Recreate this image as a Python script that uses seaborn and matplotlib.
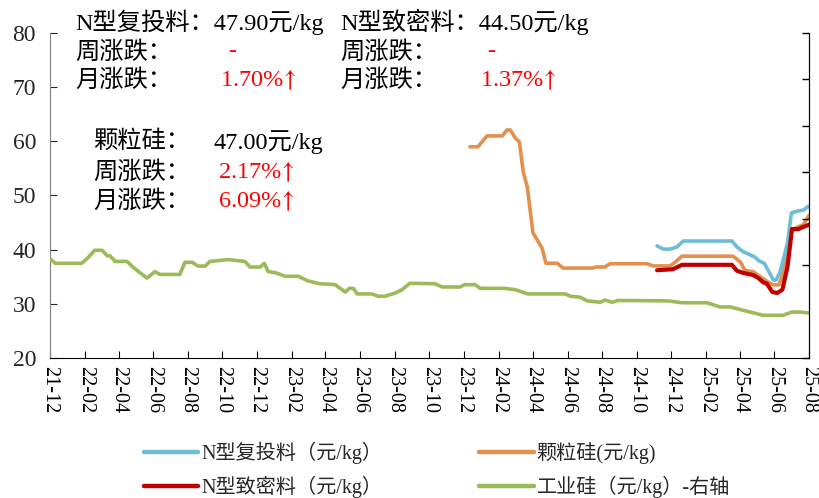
import pandas as pd
import seaborn as sns
import matplotlib
matplotlib.use('Agg')
import matplotlib.pyplot as plt
import matplotlib.dates as mdates
from matplotlib.lines import Line2D

# ---- data ----
n_reload_dates = ['2024-11-06', '2024-11-17', '2024-11-29', '2024-12-11', '2024-12-22',
                  '2025-03-18', '2025-03-27', '2025-04-07', '2025-04-16', '2025-04-28',
                  '2025-05-05', '2025-05-14', '2025-05-21', '2025-05-30', '2025-06-04',
                  '2025-06-11', '2025-06-24', '2025-07-01', '2025-07-11', '2025-07-22',
                  '2025-07-31']
n_reload = [40.7, 40.1, 40.1, 40.5, 41.6, 41.6, 40.5, 39.6, 39.2, 38.6,
            37.9, 37.5, 36.2, 34.4, 34.4, 35.9, 41.2, 46.8, 47.1, 47.3, 48.0]

n_dense_dates = ['2024-11-06', '2024-12-04', '2024-12-20', '2025-03-18', '2025-03-27',
                 '2025-04-07', '2025-04-25', '2025-05-03', '2025-05-12', '2025-05-19',
                 '2025-05-28', '2025-06-06', '2025-06-15', '2025-06-24', '2025-07-02',
                 '2025-07-13', '2025-07-22', '2025-08-01']
n_dense = [36.2, 36.4, 37.2, 37.2, 36.1, 35.7, 35.3, 34.8, 34.0, 33.7,
           32.2, 32.0, 32.6, 36.8, 43.8, 43.8, 44.2, 44.6]

granular_dates = ['2023-12-12', '2023-12-26', '2024-01-11', '2024-02-07', '2024-02-15',
                  '2024-02-21', '2024-03-01', '2024-03-08', '2024-03-15', '2024-03-22',
                  '2024-04-01', '2024-04-17', '2024-04-24', '2024-05-14', '2024-05-24',
                  '2024-07-16', '2024-07-20', '2024-08-06', '2024-08-15', '2024-10-19',
                  '2024-10-30', '2024-11-29', '2024-12-08', '2024-12-20', '2025-03-20',
                  '2025-04-02', '2025-04-10', '2025-04-25', '2025-05-10', '2025-05-21',
                  '2025-05-30', '2025-06-09', '2025-06-18', '2025-06-29', '2025-07-08',
                  '2025-07-22', '2025-08-01']
granular = [59.0, 59.0, 61.0, 61.0, 62.1, 62.1, 60.6, 59.9, 54.3, 51.6,
            43.1, 40.3, 37.5, 37.5, 36.6, 36.6, 36.8, 36.8, 37.4, 37.4,
            37.0, 37.0, 37.7, 38.8, 38.8, 37.7, 36.2, 35.9, 34.8, 34.0,
            33.5, 33.5, 36.2, 43.6, 44.0, 44.6, 46.3]

metal_si_dates = ['2021-12-01', '2021-12-10', '2022-01-26', '2022-02-06', '2022-02-18',
                  '2022-03-03', '2022-03-12', '2022-03-17', '2022-03-26', '2022-04-16',
                  '2022-04-26', '2022-05-21', '2022-06-04', '2022-06-13', '2022-07-18',
                  '2022-07-27', '2022-08-09', '2022-08-19', '2022-09-01', '2022-09-09',
                  '2022-10-11', '2022-11-10', '2022-11-19', '2022-12-07', '2022-12-14',
                  '2022-12-21', '2023-01-02', '2023-01-20', '2023-02-12', '2023-03-01',
                  '2023-03-22', '2023-04-18', '2023-05-06', '2023-05-13', '2023-05-20',
                  '2023-05-27', '2023-06-22', '2023-07-03', '2023-07-15', '2023-08-02',
                  '2023-08-14', '2023-08-28', '2023-10-11', '2023-10-24', '2023-11-24',
                  '2023-12-03', '2023-12-21', '2023-12-30', '2024-02-12', '2024-03-01',
                  '2024-03-23', '2024-05-28', '2024-06-06', '2024-06-23', '2024-07-06',
                  '2024-07-29', '2024-08-06', '2024-08-19', '2024-08-29', '2024-11-26',
                  '2024-12-20', '2025-02-02', '2025-02-25', '2025-03-15', '2025-04-19',
                  '2025-05-12', '2025-06-16', '2025-07-02', '2025-07-16', '2025-07-31']
metal_si = [15.7, 15.2, 15.2, 15.8, 16.6, 16.6, 16.0, 16.0, 15.4, 15.4,
            14.8, 13.6, 14.3, 14.0, 14.0, 15.3, 15.3, 14.9, 14.9, 15.4,
            15.6, 15.4, 14.8, 14.8, 15.2, 14.3, 14.2, 13.8, 13.8, 13.3,
            13.0, 12.9, 12.1, 12.5, 12.5, 11.9, 11.9, 11.65, 11.65, 12.0,
            12.35, 13.05, 13.0, 12.65, 12.65, 12.9, 12.9, 12.5, 12.5, 12.35,
            11.9, 11.9, 11.65, 11.55, 11.15, 11.0, 11.25, 11.0, 11.2, 11.15,
            10.95, 10.95, 10.5, 10.5, 9.95, 9.6, 9.6, 9.95, 9.95, 9.85]

labels = ['N型复投料（元/kg）', '颗粒硅(元/kg)', 'N型致密料（元/kg）', '工业硅（元/kg）-右轴']
colors = ['#6CBDD5', '#E3904F', '#C00000', '#9BBB59']

df_reload = pd.DataFrame({'date': pd.to_datetime(n_reload_dates), 'price': n_reload})
df_dense = pd.DataFrame({'date': pd.to_datetime(n_dense_dates), 'price': n_dense})
df_gran = pd.DataFrame({'date': pd.to_datetime(granular_dates), 'price': granular})
df_si = pd.DataFrame({'date': pd.to_datetime(metal_si_dates), 'price': metal_si})

sns.set_style('ticks')
plt.rcParams['font.family'] = ['Liberation Serif', 'Noto Sans CJK SC', 'DejaVu Sans']
plt.rcParams['mathtext.fontset'] = 'stix'
plt.rcParams['axes.unicode_minus'] = False

W, H = 819, 498
fig = plt.figure(figsize=(W / 100, H / 100), dpi=100)
ax = fig.add_axes([50 / W, 1 - 358 / H, (809 - 50) / W, (358 - 33) / H])
ax2 = ax.twinx()

sns.lineplot(data=df_si, x='date', y='price', ax=ax2, color=colors[3], lw=2.6)
sns.lineplot(data=df_gran, x='date', y='price', ax=ax, color=colors[1], lw=2.6)
sns.lineplot(data=df_reload, x='date', y='price', ax=ax, color=colors[0], lw=2.6)
sns.lineplot(data=df_dense, x='date', y='price', ax=ax, color=colors[2], lw=3.0)

ax.set_xlim(pd.Timestamp('2021-12-01'), pd.Timestamp('2025-08-01'))
ax.set_ylim(20, 80)
ax.set_yticks(range(20, 81, 10))
ax2.set_ylim(5, 40)
ax2.set_yticks(range(5, 41, 5))
ax2.tick_params(axis='y', direction='in', labelright=False, right=True,
                length=5, width=1, color='black')

xt = pd.date_range('2021-12-01', '2025-08-01', freq='2MS')
ax.set_xticks(xt)
ax.xaxis.set_major_formatter(mdates.DateFormatter('%y-%m'))
ax.tick_params(axis='x', direction='in', rotation=-90, labelsize=14.5, length=5, pad=6, colors='black')
ax.tick_params(axis='y', direction='in', labelsize=17, length=5, pad=10)
ax.set_xlabel('')
ax.set_ylabel('')
ax2.set_ylabel('')

for a in (ax, ax2):
    a.spines['top'].set_visible(False)
ax.spines['left'].set_color('#808080')
ax.spines['bottom'].set_color('black')
ax2.spines['right'].set_color('black')
ax2.spines['left'].set_visible(False)
ax2.spines['bottom'].set_visible(False)

# ---- annotations ----
def px(x, y):
    return x / W, 1 - y / H

fs = 17.5
red = '#FF0000'
up = r'$\!\uparrow$'
texts = [
    (75, 22, 'N型复投料：47.90元/kg', 'black'),
    (340, 22, 'N型致密料：44.50元/kg', 'black'),
    (75, 52, '周涨跌：', 'black'), (228, 52, '-', red),
    (340, 52, '周涨跌：', 'black'), (487, 52, '-', red),
    (75, 80, '月涨跌：', 'black'), (220, 80, '1.70%' + up, red),
    (340, 80, '月涨跌：', 'black'), (480, 80, '1.37%' + up, red),
    (93, 142, '颗粒硅：', 'black'), (213, 142, '47.00元/kg', 'black'),
    (93, 172, '周涨跌：', 'black'), (218, 172, '2.17%' + up, red),
    (93, 201, '月涨跌：', 'black'), (218, 201, '6.09%' + up, red),
]
for x, y, s, c in texts:
    fig.text(*px(x, y), s, color=c, fontsize=fs, ha='left', va='center')

# ---- legend ----
handles = [Line2D([], [], color=colors[i], lw=3.2) for i in (0, 2, 1, 3)]
leg_labels = [labels[i] for i in (0, 2, 1, 3)]
fig.legend(handles, leg_labels, ncol=2, frameon=False, loc='center',
           bbox_to_anchor=px(437, 470), fontsize=14.5, handlelength=2.7,
           handletextpad=0.15, columnspacing=4.8, labelspacing=0.6)

fig.savefig('out.png', dpi=100)
